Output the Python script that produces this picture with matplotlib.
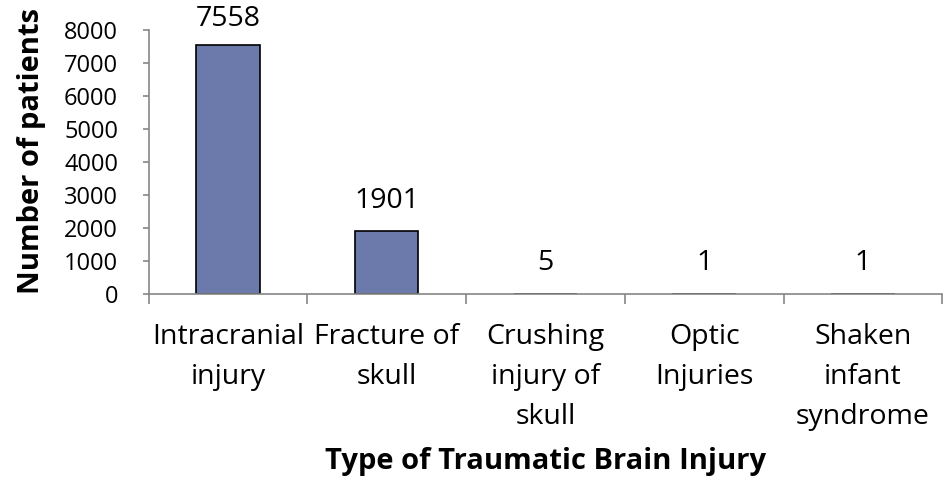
import matplotlib.pyplot as plt

plt.rcParams['font.family'] = ['Open Sans', 'DejaVu Sans']

categories = ['Intracranial\ninjury', 'Fracture of\nskull', 'Crushing\ninjury of\nskull',
              'Optic\nInjuries', 'Shaken\ninfant\nsyndrome']
patients = [7558, 1901, 5, 1, 1]

fig = plt.figure(figsize=(9.47, 4.8), dpi=100)
ax = fig.add_axes([0.157, 0.3875, 0.838, 0.55])

x = range(len(categories))
bars = ax.bar(x, patients, width=0.4, color='#6b7aaa', edgecolor='black', linewidth=1.2)

for xi, v in zip(x, patients):
    # keep the top label inside the figure, like the original
    off = 12 if v < 7000 else 8
    ax.annotate(str(v), (xi, v), xytext=(0, off), textcoords='offset points',
                ha='center', va='bottom', fontsize=20.5)

ax.set_xlim(-0.5, len(categories) - 0.5)
ax.set_ylim(0, 8000)
ax.set_yticks(range(0, 8001, 1000))
ax.tick_params(axis='y', labelsize=17, length=4, color='#868686', width=1.2, pad=18)

ax.set_xticks(x)
ax.set_xticklabels(categories, fontsize=20.5, linespacing=1.56)
ax.tick_params(axis='x', length=0, pad=21)
ax.set_xticks([i - 0.5 for i in range(len(categories) + 1)], minor=True)
ax.tick_params(axis='x', which='minor', length=7, color='#868686', width=1.2)

for s in ['top', 'right']:
    ax.spines[s].set_visible(False)
for s in ['left', 'bottom']:
    ax.spines[s].set_color('#868686')
    ax.spines[s].set_linewidth(1.2)

ax.set_ylabel('Number of patients', fontsize=21, fontweight='bold')
ax.yaxis.set_label_coords(-0.129, 0.54)
ax.set_xlabel('Type of Traumatic Brain Injury', fontsize=21, fontweight='bold', labelpad=12)

fig.savefig('out.png', dpi=100)
